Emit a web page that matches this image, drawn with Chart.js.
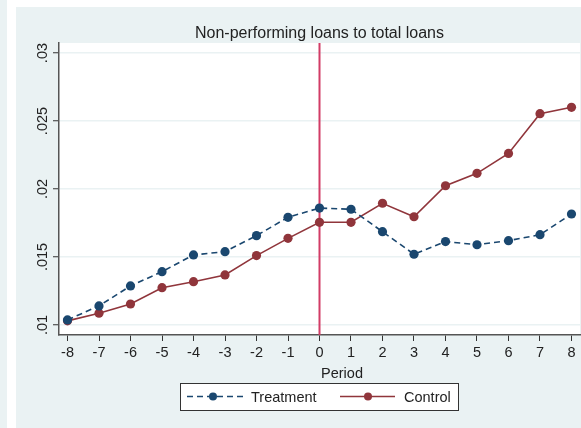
<!DOCTYPE html>
<html>
<head>
<meta charset="utf-8">
<script src="https://cdn.jsdelivr.net/npm/chart.js@4"></script>
<style>
  html, body { margin: 0; padding: 0; background: #fff; overflow: hidden; }
  canvas { display: block; }
</style>
</head>
<body>
<canvas id="chart" width="581" height="428"></canvas>
<script>
// data
const periods = [-8, -7, -6, -5, -4, -3, -2, -1, 0, 1, 2, 3, 4, 5, 6, 7, 8];
const treatment = [0.01037, 0.0114, 0.01287, 0.01392, 0.01515, 0.01539, 0.01657, 0.01792, 0.0186,
                   0.01851, 0.01686, 0.0152, 0.01613, 0.0159, 0.0162, 0.01664, 0.01816];
const control = [0.0103, 0.01086, 0.01154, 0.01274, 0.01318, 0.01368, 0.0151, 0.01637, 0.01755,
                 0.01755, 0.01895, 0.01796, 0.02024, 0.02115, 0.02262, 0.02554, 0.02601];
const yTicks = [0.01, 0.015, 0.02, 0.025, 0.03];
const yTickLabels = ['.01', '.015', '.02', '.025', '.03'];
const eventPeriod = 0;

const titleText = 'Non-performing loans to total loans';
const xTitle = 'Period';

const FONT = '"Liberation Sans", Arial, sans-serif';
const NAVY = '#1a476f';
const MAROON = '#90353b';
const PANEL = '#eaf2f3';

// backgrounds, title, y labels, x title, legend
const decorations = {
    id: 'decorations',
    beforeDraw(chart) {
        const ctx = chart.ctx;
        const a = chart.chartArea;
        ctx.save();
        ctx.fillStyle = '#fff';
        ctx.fillRect(0, 0, chart.width, chart.height);
        ctx.fillStyle = PANEL;
        ctx.fillRect(0, 0, 7, chart.height);
        ctx.fillRect(16, 7, chart.width - 16, chart.height - 7);
        ctx.fillStyle = '#fff';
        ctx.fillRect(a.left, a.top, a.right - a.left, a.bottom - a.top);
        ctx.restore();
    },
    beforeDatasetsDraw(chart) {
        const ctx = chart.ctx;
        const a = chart.chartArea;
        const x = chart.scales.x.getPixelForValue(eventPeriod);
        ctx.save();
        ctx.strokeStyle = '#d23c66';
        ctx.lineWidth = 2;
        ctx.beginPath();
        ctx.moveTo(x, a.top);
        ctx.lineTo(x, a.bottom);
        ctx.stroke();
        ctx.restore();
    },
    afterDraw(chart) {
        const ctx = chart.ctx;
        const ys = chart.scales.y;
        ctx.save();
        ctx.fillStyle = '#222';

        // title
        ctx.font = '16px ' + FONT;
        ctx.textAlign = 'center';
        ctx.textBaseline = 'alphabetic';
        ctx.fillText(titleText, 319.5, 38);

        // y tick labels, rotated
        ctx.font = '14.5px ' + FONT;
        yTicks.forEach((v, i) => {
            const py = ys.getPixelForValue(v);
            ctx.save();
            ctx.translate(46.5, py);
            ctx.rotate(-Math.PI / 2);
            ctx.textAlign = 'center';
            ctx.textBaseline = 'alphabetic';
            ctx.fillText(yTickLabels[i], 0, 0);
            ctx.restore();
        });

        // x axis title
        ctx.textAlign = 'center';
        ctx.fillText(xTitle, 342, 378);

        // legend
        ctx.fillStyle = '#fff';
        ctx.fillRect(180.5, 383.5, 278, 27);
        ctx.strokeStyle = '#333';
        ctx.lineWidth = 1;
        ctx.strokeRect(180.5, 383.5, 278, 27);

        const ly = 396.5;
        ctx.lineWidth = 1.6;
        ctx.strokeStyle = NAVY;
        ctx.setLineDash([6, 4]);
        ctx.beginPath();
        ctx.moveTo(187, ly);
        ctx.lineTo(243, ly);
        ctx.stroke();
        ctx.setLineDash([]);
        ctx.fillStyle = NAVY;
        ctx.beginPath();
        ctx.arc(213, ly, 4, 0, Math.PI * 2);
        ctx.fill();

        ctx.strokeStyle = MAROON;
        ctx.beginPath();
        ctx.moveTo(340, ly);
        ctx.lineTo(395, ly);
        ctx.stroke();
        ctx.fillStyle = MAROON;
        ctx.beginPath();
        ctx.arc(368, ly, 4, 0, Math.PI * 2);
        ctx.fill();

        ctx.fillStyle = '#222';
        ctx.textAlign = 'left';
        ctx.fillText('Treatment', 251, 401.5);
        ctx.fillText('Control', 404, 401.5);
        ctx.restore();
    }
};

const ctx = document.getElementById('chart').getContext('2d');
new Chart(ctx, {
    type: 'line',
    data: {
        datasets: [{
            label: 'Treatment',
            data: periods.map((p, i) => ({ x: p, y: treatment[i] })),
            borderColor: NAVY,
            backgroundColor: NAVY,
            borderWidth: 1.6,
            borderDash: [6, 4],
            pointRadius: 4.6,
            pointBorderWidth: 0,
            pointBackgroundColor: NAVY,
            tension: 0
        }, {
            label: 'Control',
            data: periods.map((p, i) => ({ x: p, y: control[i] })),
            borderColor: MAROON,
            backgroundColor: MAROON,
            borderWidth: 1.6,
            pointRadius: 4.6,
            pointBorderWidth: 0,
            pointBackgroundColor: MAROON,
            tension: 0
        }]
    },
    options: {
        responsive: false,
        animation: false,
        layout: { autoPadding: false, padding: { top: 43, right: 1, left: 0, bottom: 0 } },
        plugins: {
            legend: { display: false },
            title: { display: false },
            tooltip: { enabled: false }
        },
        scales: {
            x: {
                type: 'linear',
                min: -8.27,
                max: 8.27,
                afterBuildTicks: s => { s.ticks = periods.map(v => ({ value: v })); },
                afterFit: s => { s.height = 93; s.paddingLeft = 0; s.paddingRight = 0; },
                grid: { drawOnChartArea: false, tickLength: 6, tickColor: '#333', tickWidth: 1 },
                border: { color: '#555', width: 1.5 },
                ticks: {
                    autoSkip: false,
                    maxRotation: 0,
                    padding: 3,
                    color: '#222',
                    font: { size: 14.5, family: FONT },
                    callback: v => String(v)
                }
            },
            y: {
                min: 0.00926,
                max: 0.03074,
                afterBuildTicks: s => { s.ticks = yTicks.map(v => ({ value: v })); },
                afterFit: s => { s.width = 59; s.paddingTop = 0; s.paddingBottom = 0; },
                grid: { color: PANEL, lineWidth: 1.5, tickLength: 6, tickColor: '#333', tickWidth: 1 },
                border: { color: '#555', width: 1.5 },
                ticks: { display: false }
            }
        }
    },
    plugins: [decorations]
});
</script>
</body>
</html>
